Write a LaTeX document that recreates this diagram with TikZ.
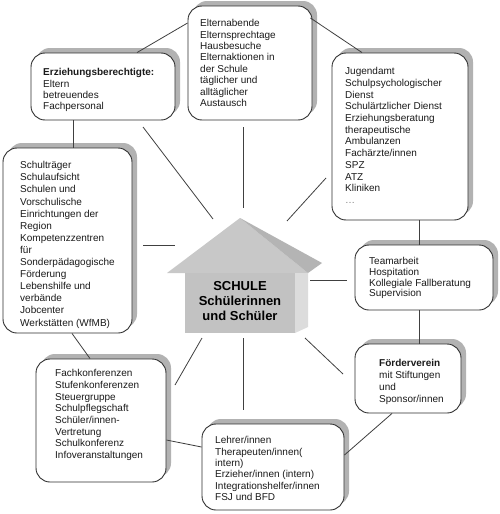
\documentclass[tikz,border=0pt]{standalone}
\usepackage{fontspec}
\setmainfont{Liberation Sans}
\usetikzlibrary{shadows}
\definecolor{shadowgray}{HTML}{B2B2B2}
\definecolor{boxline}{HTML}{303030}
\definecolor{linecol}{HTML}{404040}
\definecolor{textcol}{HTML}{1A1A1A}
\definecolor{roofl}{HTML}{C8C8C8}
\definecolor{roofd}{HTML}{B4B4B4}
\definecolor{housefront}{HTML}{C2C2C2}
\definecolor{houseside}{HTML}{DCDCDC}
\begin{document}
\begin{tikzpicture}[x=1pt,y=-1pt,
  box/.style={draw=boxline, line width=0.9pt, rounded corners=14pt, fill=white, inner sep=0pt,
    general shadow={fill=shadowgray, shadow xshift=5pt, shadow yshift=5pt}},
  txt/.style={anchor=north west, inner sep=0pt, align=left, text=textcol},
  conn/.style={draw=linecol, line width=0.8pt}]
\useasboundingbox (0,0) rectangle (500,514);
\fill[white] (0,0) rectangle (500,514);

% boxes
\node[box, minimum width=144pt, minimum height=67pt] (b1) at (103,86.5) {};
\node[box, minimum width=124pt, minimum height=114pt] (b2) at (250,63) {};
\node[box, minimum width=136pt, minimum height=167pt] (b3) at (400,136.5) {};
\node[box, minimum width=129pt, minimum height=185pt] (b4) at (67.5,240.5) {};
\node[box, minimum width=138pt, minimum height=65pt] (b5) at (424,277.5) {};
\node[box, minimum width=106pt, minimum height=69pt] (b6) at (408,378.5) {};
\node[box, minimum width=142pt, minimum height=86pt] (b7) at (273,467) {};
\node[box, minimum width=130pt, minimum height=123pt] (b8) at (101,420.5) {};

% texts
\node[txt, font=\fontsize{10}{11.3}\selectfont] (t1) at (43,65.5)
  {\rule{0pt}{10pt}\textbf{Erziehungsberechtigte:}\\Eltern\\betreuendes\\Fachpersonal};
\node[txt, font=\fontsize{10}{11.43}\selectfont] (t2) at (200,16.5)
  {\rule{0pt}{10pt}Elternabende\\Elternsprechtage\\Hausbesuche\\Elternaktionen in\\der Schule\\täglicher und\\alltäglicher\\Austausch};
\node[txt, font=\fontsize{10}{11.7}\selectfont] (t3) at (345,64.5)
  {\rule{0pt}{10pt}Jugendamt\\Schulpsychologischer\\Dienst\\Schulärtzlicher Dienst\\Erziehungsberatung\\therapeutische\\Ambulanzen\\Fachärzte/innen\\SPZ\\ATZ\\Kliniken\\\textcolor{gray}{…}};
\node[txt, font=\fontsize{10}{12.1}\selectfont] (t4) at (20,158.5)
  {\rule{0pt}{10pt}Schulträger\\Schulaufsicht\\Schulen und\\Vorschulische\\Einrichtungen der\\Region\\Kompetenzzentren\\für\\Sonderpädagogische\\Förderung\\Lebenshilfe und\\verbände\\Jobcenter\\Werkstätten (WfMB)};
\node[txt, font=\fontsize{10}{10.7}\selectfont] (t5) at (369,254.5)
  {\rule{0pt}{10pt}Teamarbeit\\Hospitation\\Kollegiale Fallberatung\\Supervision};
\node[txt, font=\fontsize{10}{12}\selectfont] (t6) at (379,356.5)
  {\rule{0pt}{10pt}\textbf{Förderverein}\\mit Stiftungen\\und\\Sponsor/innen};
\node[txt, font=\fontsize{10}{11.4}\selectfont] (t7) at (215,433.5)
  {\rule{0pt}{10pt}Lehrer/innen\\Therapeuten/innen(\\intern)\\Erzieher/innen (intern)\\Integrationshelfer/innen\\FSJ und BFD};
\node[txt, font=\fontsize{10}{11.7}\selectfont] (t8) at (55,366.5)
  {\rule{0pt}{10pt}Fachkonferenzen\\Stufenkonferenzen\\Steuergruppe\\Schulpflegschaft\\Schüler/innen-\\Vertretung\\Schulkonferenz\\Infoveranstaltungen};

% house
\fill[roofl] (167,273) -- (240,218) -- (308,273) -- cycle;
\fill[roofd] (240,218) -- (322,263) -- (308,273) -- cycle;
\fill[houseside] (295,273) -- (308,273) -- (308,327) -- (295,333) -- cycle;
\fill[housefront] (185,273) rectangle (295,333);
\node[font=\fontsize{13}{15}\selectfont\bfseries, align=center, inner sep=0pt, text=black] (house) at (240,301)
  {SCHULE\\Schülerinnen\\und Schüler};

% box-to-box connectors
\draw[conn] ([xshift=34pt]b1.north) -- ([yshift=40pt]b2.west);
\draw[conn] ([xshift=-2pt,yshift=45pt]b2.east) -- ([xshift=-38pt]b3.north);
\draw[conn] ([xshift=-30pt]b1.south) -- ([xshift=-30pt]b1.south |- b4.north);
\draw[conn] ([xshift=19pt]b3.south) -- ([xshift=19pt]b3.south |- b5.north);
\draw[conn] ([xshift=-5pt]b5.south) -- ([xshift=-5pt]b5.south |- b6.north);
\draw[conn] ([xshift=4.5pt]b4.south) -- ([xshift=-11pt]b8.north);
\draw[conn] ([yshift=-19.5pt]b8.east) -- ([yshift=20pt]b7.west);
\draw[conn] ([xshift=-16pt]b6.south) -- ([yshift=12pt]b7.east);

% radiating connectors around the house
\coordinate (r1a) at (143,127); \coordinate (r1b) at (213,219);
\coordinate (r2a) at (243,127); \coordinate (r2b) at (243,208);
\coordinate (r3a) at (326,178); \coordinate (r3b) at (287,221);
\coordinate (r4a) at (143,245); \coordinate (r4b) at (175,245);
\coordinate (r5a) at (310,280); \coordinate (r5b) at (347,280);
\coordinate (r6a) at (202,338); \coordinate (r6b) at (175,385);
\coordinate (r7a) at (243,338); \coordinate (r7b) at (243,410);
\coordinate (r8a) at (305,338); \coordinate (r8b) at (343,374);
\draw[conn] (r1a) -- (r1b);
\draw[conn] (r2a) -- (r2b);
\draw[conn] (r3a) -- (r3b);
\draw[conn] (r4a) -- (r4b);
\draw[conn] (r5a) -- (r5b);
\draw[conn] (r6a) -- (r6b);
\draw[conn] (r7a) -- (r7b);
\draw[conn] (r8a) -- (r8b);
\end{tikzpicture}
\end{document}
